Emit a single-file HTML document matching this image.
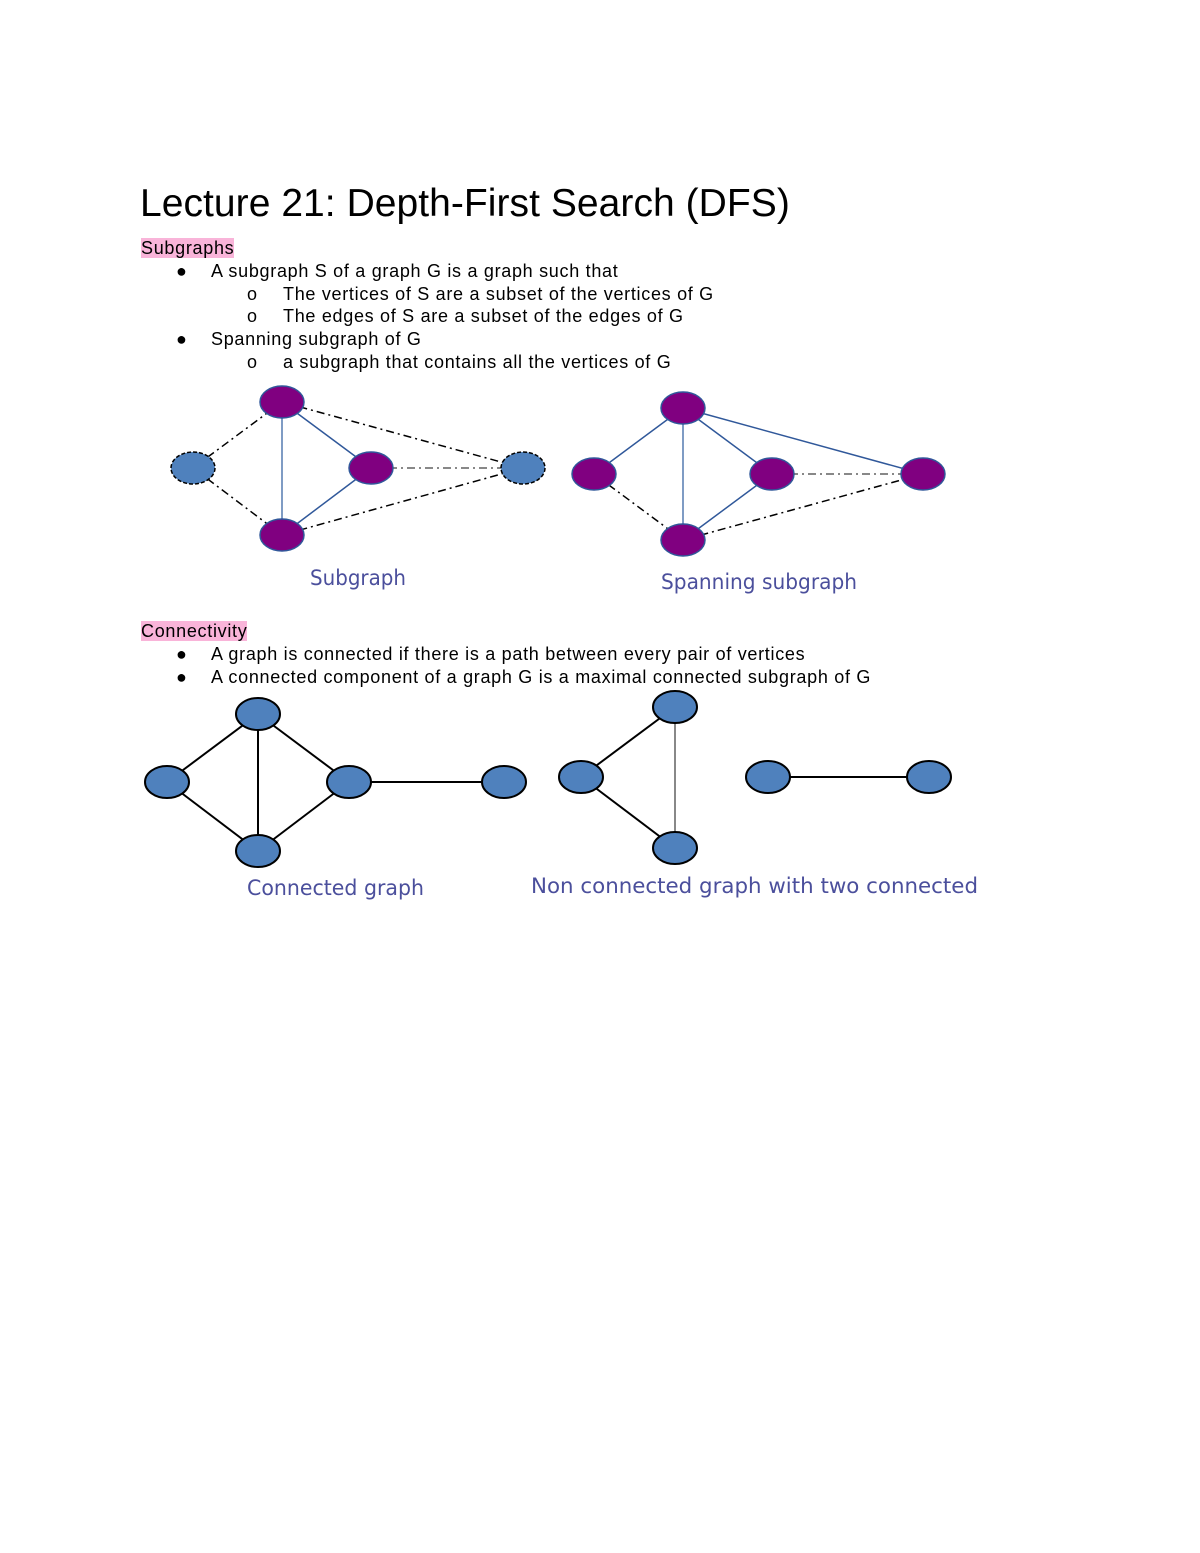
<!DOCTYPE html>
<html><head><style>
body{margin:0;background:#fff;width:1200px;height:1553px;position:relative;font-family:"Liberation Sans",Arial,sans-serif;color:#000;overflow:hidden}
.t{position:absolute;white-space:nowrap;font-size:18px;letter-spacing:0.7px}
.hl{background:#f9b4d9}
svg{position:absolute;left:0;top:0}
</style></head><body>
<div class="t" style="left:140px;top:182px;font-size:39px;letter-spacing:0.05px">Lecture 21: Depth-First Search (DFS)</div>
<div class="t" style="left:141px;top:238px"><span class="hl">Subgraphs</span></div>
<div class="t" style="left:176px;top:261px">●</div><div class="t" style="left:211px;top:261px">A subgraph S of a graph G is a graph such that</div>
<div class="t" style="left:247px;top:284px">o</div><div class="t" style="left:283px;top:284px">The vertices of S are a subset of the vertices of G</div>
<div class="t" style="left:247px;top:306px">o</div><div class="t" style="left:283px;top:306px">The edges of S are a subset of the edges of G</div>
<div class="t" style="left:176px;top:329px">●</div><div class="t" style="left:211px;top:329px">Spanning subgraph of G</div>
<div class="t" style="left:247px;top:352px">o</div><div class="t" style="left:283px;top:352px">a subgraph that contains all the vertices of G</div>
<div class="t" style="left:141px;top:621px"><span class="hl">Connectivity</span></div>
<div class="t" style="left:176px;top:644px">●</div><div class="t" style="left:211px;top:644px">A graph is connected if there is a path between every pair of vertices</div>
<div class="t" style="left:176px;top:667px">●</div><div class="t" style="left:211px;top:667px">A connected component of a graph G is a maximal connected subgraph of G</div>
<svg width="1200" height="1553" font-family="'DejaVu Sans',sans-serif">
<g stroke-width="1.5" fill="none">
<line x1="282" y1="402" x2="282" y2="535" stroke="#7f9cc4" stroke-width="2"/>
<line x1="282" y1="402" x2="371" y2="468" stroke="#30589a"/>
<line x1="371" y1="468" x2="282" y2="535" stroke="#30589a"/>
<g stroke="#000" stroke-dasharray="8,4,2,4">
<line x1="193" y1="468" x2="282" y2="402"/><line x1="193" y1="468" x2="282" y2="535"/>
<line x1="282" y1="402" x2="523" y2="468"/><line x1="282" y1="535" x2="523" y2="468"/>
</g>
<line x1="371" y1="468" x2="523" y2="468" stroke="#888" stroke-dasharray="8,4,2,4" stroke-width="2"/>
<line x1="683" y1="408" x2="683" y2="540" stroke="#7f9cc4" stroke-width="2"/>
<g stroke="#30589a"><line x1="683" y1="408" x2="772" y2="474"/><line x1="772" y1="474" x2="683" y2="540"/><line x1="683" y1="408" x2="594" y2="474"/><line x1="683" y1="408" x2="923" y2="474"/></g>
<g stroke="#000" stroke-dasharray="8,4,2,4"><line x1="594" y1="474" x2="683" y2="540"/><line x1="683" y1="540" x2="923" y2="474"/></g>
<line x1="772" y1="474" x2="923" y2="474" stroke="#888" stroke-dasharray="8,4,2,4" stroke-width="2"/>
<g stroke="#000" stroke-width="2">
<line x1="258" y1="714" x2="258" y2="851"/><line x1="258" y1="714" x2="167" y2="782"/><line x1="258" y1="714" x2="349" y2="782"/>
<line x1="167" y1="782" x2="258" y2="851"/><line x1="349" y1="782" x2="258" y2="851"/><line x1="349" y1="782" x2="504" y2="782"/>
<line x1="675" y1="707" x2="581" y2="777"/><line x1="581" y1="777" x2="675" y2="848"/><line x1="768" y1="777" x2="929" y2="777"/>
</g>
<line x1="675" y1="707" x2="675" y2="848" stroke="#888" stroke-width="2"/>
</g>
<g fill="#800080" stroke="#30589a" stroke-width="1.5">
<ellipse cx="282" cy="402" rx="22" ry="16"/><ellipse cx="371" cy="468" rx="22" ry="16"/><ellipse cx="282" cy="535" rx="22" ry="16"/>
<ellipse cx="683" cy="408" rx="22" ry="16"/><ellipse cx="594" cy="474" rx="22" ry="16"/><ellipse cx="772" cy="474" rx="22" ry="16"/><ellipse cx="923" cy="474" rx="22" ry="16"/><ellipse cx="683" cy="540" rx="22" ry="16"/>
</g>
<g fill="#4f81bd" stroke="#000" stroke-width="1.5" stroke-dasharray="4,2">
<ellipse cx="193" cy="468" rx="22" ry="16"/><ellipse cx="523" cy="468" rx="22" ry="16"/>
</g>
<g fill="#4f81bd" stroke="#000" stroke-width="2">
<ellipse cx="258" cy="714" rx="22" ry="16"/><ellipse cx="167" cy="782" rx="22" ry="16"/><ellipse cx="349" cy="782" rx="22" ry="16"/><ellipse cx="258" cy="851" rx="22" ry="16"/><ellipse cx="504" cy="782" rx="22" ry="16"/>
<ellipse cx="675" cy="707" rx="22" ry="16"/><ellipse cx="581" cy="777" rx="22" ry="16"/><ellipse cx="675" cy="848" rx="22" ry="16"/><ellipse cx="768" cy="777" rx="22" ry="16"/><ellipse cx="929" cy="777" rx="22" ry="16"/>
</g>
<g fill="#4b4f9c" font-size="21">
<text x="310" y="585" textLength="96" lengthAdjust="spacingAndGlyphs">Subgraph</text>
<text x="661" y="589" textLength="196" lengthAdjust="spacingAndGlyphs">Spanning subgraph</text>
<text x="247" y="895" textLength="177" lengthAdjust="spacingAndGlyphs">Connected graph</text>
<text x="531" y="893" textLength="447" lengthAdjust="spacingAndGlyphs">Non connected graph with two connected</text>
</g>
</svg>
</body></html>
